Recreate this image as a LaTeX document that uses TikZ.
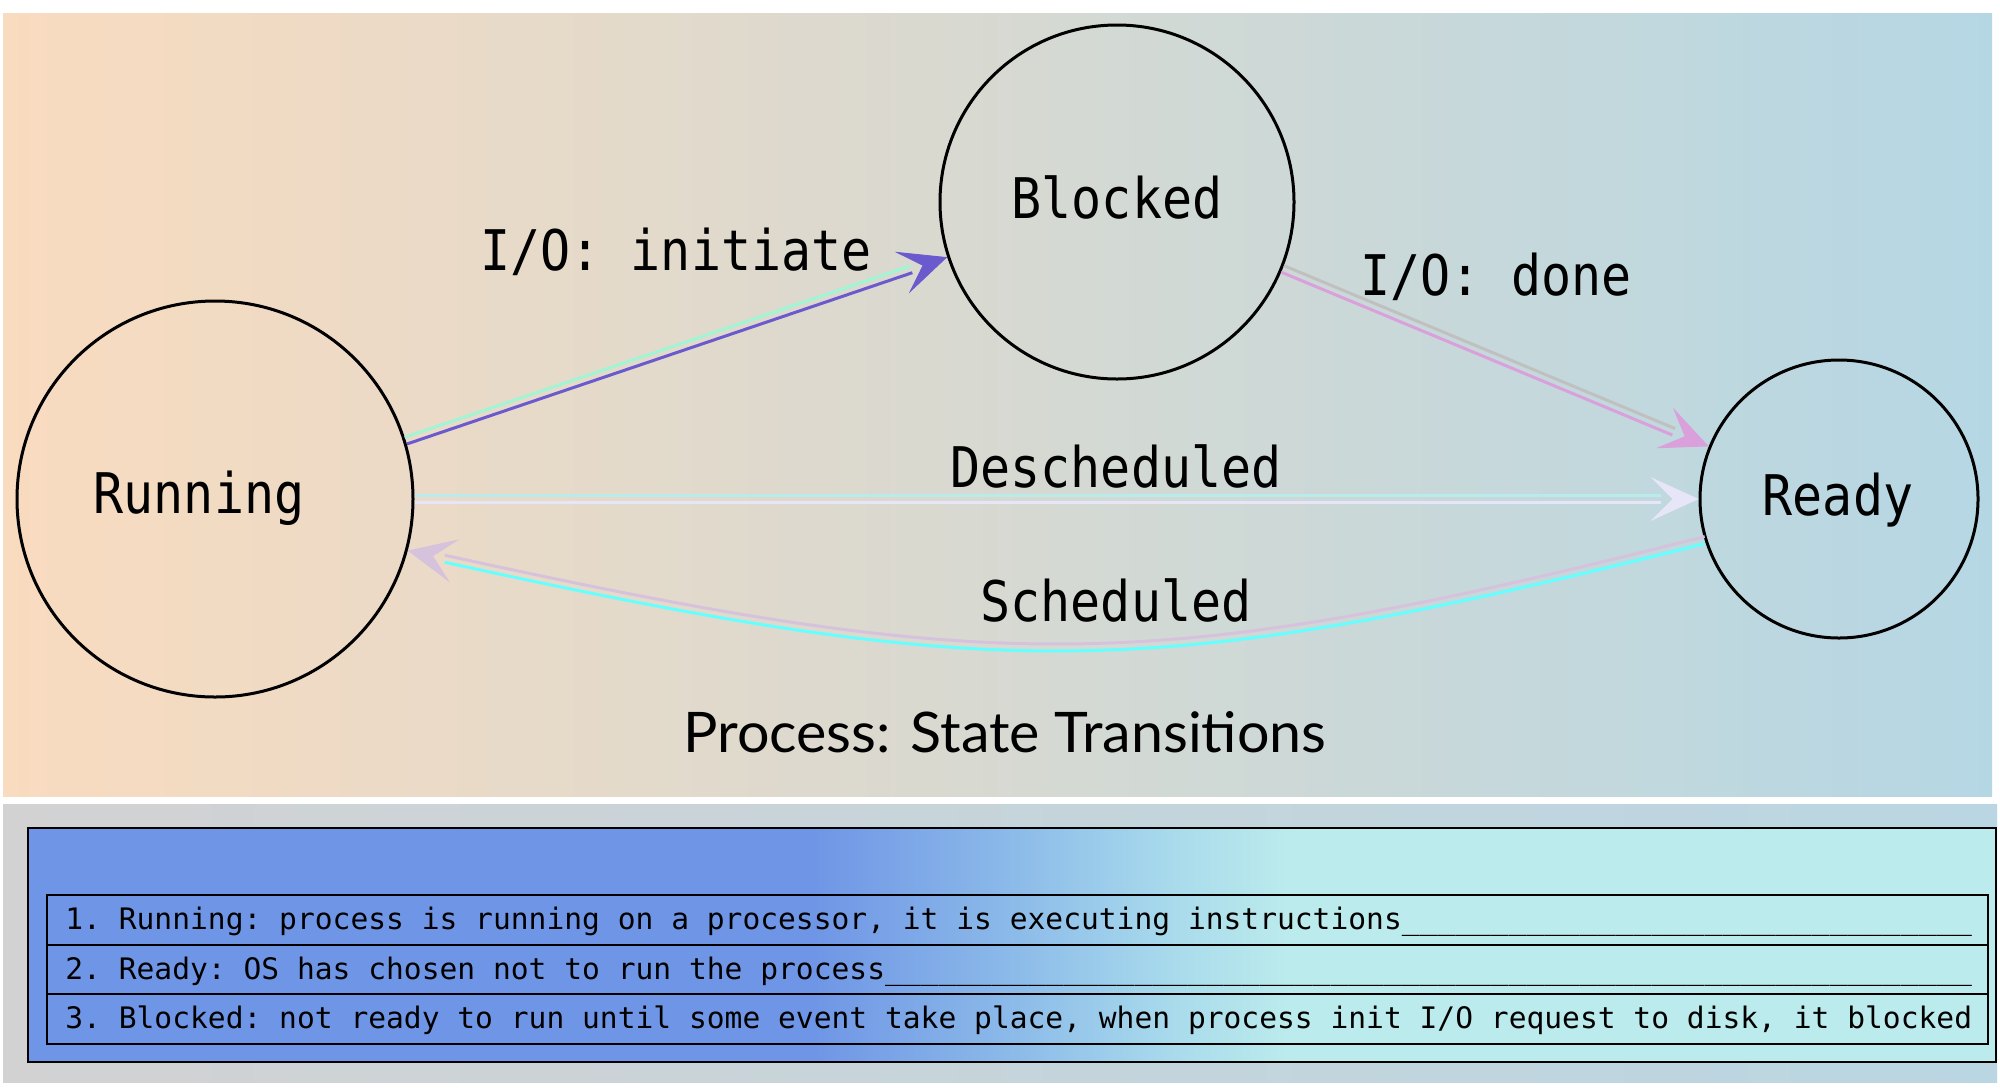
\documentclass[tikz,border=0pt]{standalone}
\usepackage{fontspec}
\setmonofont{DejaVu Sans Mono}
\newfontfamily\titlefont{Lato}
\usetikzlibrary{arrows.meta,decorations.markings}
\definecolor{topL}{RGB}{249,219,191}
\definecolor{topM}{RGB}{222,219,206}
\definecolor{topR}{RGB}{181,215,228}
\definecolor{botL}{RGB}{210,210,211}
\definecolor{botR}{RGB}{186,214,226}
\definecolor{boxA}{RGB}{111,150,230}
\definecolor{boxM}{RGB}{140,186,233}
\definecolor{boxN}{RGB}{168,218,236}
\definecolor{boxC}{RGB}{187,235,236}
\definecolor{mintL}{RGB}{160,245,212}
\definecolor{slateL}{RGB}{106,90,205}
\definecolor{silverL}{RGB}{192,192,192}
\definecolor{plumL}{RGB}{218,160,220}
\definecolor{pturqL}{RGB}{185,235,235}
\definecolor{lavL}{RGB}{230,230,248}
\definecolor{thisL}{RGB}{214,194,220}
\definecolor{cyanL}{RGB}{102,255,255}
\pgfdeclarehorizontalshading{boxshade}{100bp}{color(0bp)=(boxA); color(45bp)=(boxA); color(50bp)=(boxM); color(54bp)=(boxN); color(57bp)=(boxC); color(100bp)=(boxC)}
\newcommand\tallmono[1]{\scalebox{1}[1.12]{#1}}
\begin{document}
\begin{tikzpicture}[x=0.5pt,y=-0.5pt,
  state/.style={circle, draw=black, line width=1.5pt, inner sep=0pt},
  lbl/.style={font=\fontsize{25pt}{25pt}\selectfont\ttfamily, anchor=base, inner sep=0pt},
  rowtxt/.style={font=\fontsize{14.8pt}{14.8pt}\selectfont\ttfamily, anchor=base west, inner sep=0pt},
  wire/.style={line width=1.5pt, shorten >=19pt},
  tipmark/.style={decoration={markings, mark=at position 1 with {\arrow[color=#1]{Stealth[length=24pt,width=22pt,inset=11pt]}}}, postaction={decorate}}
]
\useasboundingbox (0,0) rectangle (2000,1088);
\fill[white] (0,0) rectangle (2000,1088);
% top panel
\fill[left color=topL, middle color=topM, right color=topR] (3,13) rectangle (1992,796);
% bottom panel
\fill[left color=botL, right color=botR] (3,804) rectangle (1997,1082);
\draw[line width=1pt, shading=boxshade] (28,828) rectangle (1996,1062);
% table
\draw[line width=1pt] (47,895) rectangle (1988,1044);
\draw[line width=1pt] (47,944.5) -- (1988,944.5);
\draw[line width=1pt] (47,994) -- (1988,994);
\node[rowtxt] (r1) at (65,929) {1. Running: process is running on a processor, it is executing instructions\foreach \k in {1,...,32}{\_}};
\node[rowtxt] (r2) at (65,979) {2. Ready: OS has chosen not to run the process\foreach \k in {1,...,61}{\_}};
\node[rowtxt] (r3) at (65,1028) {3. Blocked: not ready to run until some event take place, when process init I/O request to disk, it blocked};
% states
\node[state, minimum size=198pt] (run) at (215,499) {};
\node[state, minimum size=177pt] (blk) at (1117,202) {};
\node[state, minimum size=139pt] (rdy) at (1839,499) {};
\node[lbl] (runt) at (199,513) {\tallmono{Running}};
\node[lbl] (blkt) at (1117,218) {\tallmono{Blocked}};
\node[lbl] (rdyt) at (1838,515) {\tallmono{Ready}};
% I/O initiate
\draw[wire, mintL, transform canvas={xshift=-0.56pt,yshift=1.66pt}] (run.17) -- (blk.198);
\draw[wire, slateL, transform canvas={xshift=0.56pt,yshift=-1.66pt}] (run.17) -- (blk.198);
\path[tipmark=slateL] (run.17) -- (blk.198);
% I/O done
\draw[wire, silverL, transform canvas={xshift=0.67pt,yshift=1.62pt}] (blk.-22) -- (rdy.158);
\draw[wire, plumL, transform canvas={xshift=-0.67pt,yshift=-1.62pt}] (blk.-22) -- (rdy.158);
\path[tipmark=plumL] (blk.-22) -- (rdy.158);
% Descheduled
\draw[wire, pturqL, transform canvas={yshift=1.75pt}] (run.east) -- (rdy.west);
\draw[wire, lavL, transform canvas={yshift=-1.75pt}] (run.east) -- (rdy.west);
\path[tipmark=lavL] (run.east) -- (rdy.west);
% Scheduled
\draw[wire, thisL, transform canvas={yshift=1.75pt}] (rdy.197.5) .. controls (1150,680) and (1000,680) .. (run.-15);
\draw[wire, cyanL, transform canvas={yshift=-1.75pt}] (rdy.197.5) .. controls (1150,680) and (1000,680) .. (run.-15);
\path[tipmark=thisL] (rdy.197.5) .. controls (1150,680) and (1000,680) .. (run.-15);
% labels
\node[lbl] (l1) at (676,270) {\tallmono{I/O: initiate}};
\node[lbl] (l2) at (1496,295) {\tallmono{I/O: done}};
\node[lbl] (l3) at (1116,487) {\tallmono{Descheduled}};
\node[lbl] (l4) at (1116,621) {\tallmono{Scheduled}};
\node[anchor=base, inner sep=0pt] (title) at (1005,752) {\resizebox{321.5pt}{20.5pt}{\titlefont Process: State Transitions}};
\end{tikzpicture}
\end{document}
